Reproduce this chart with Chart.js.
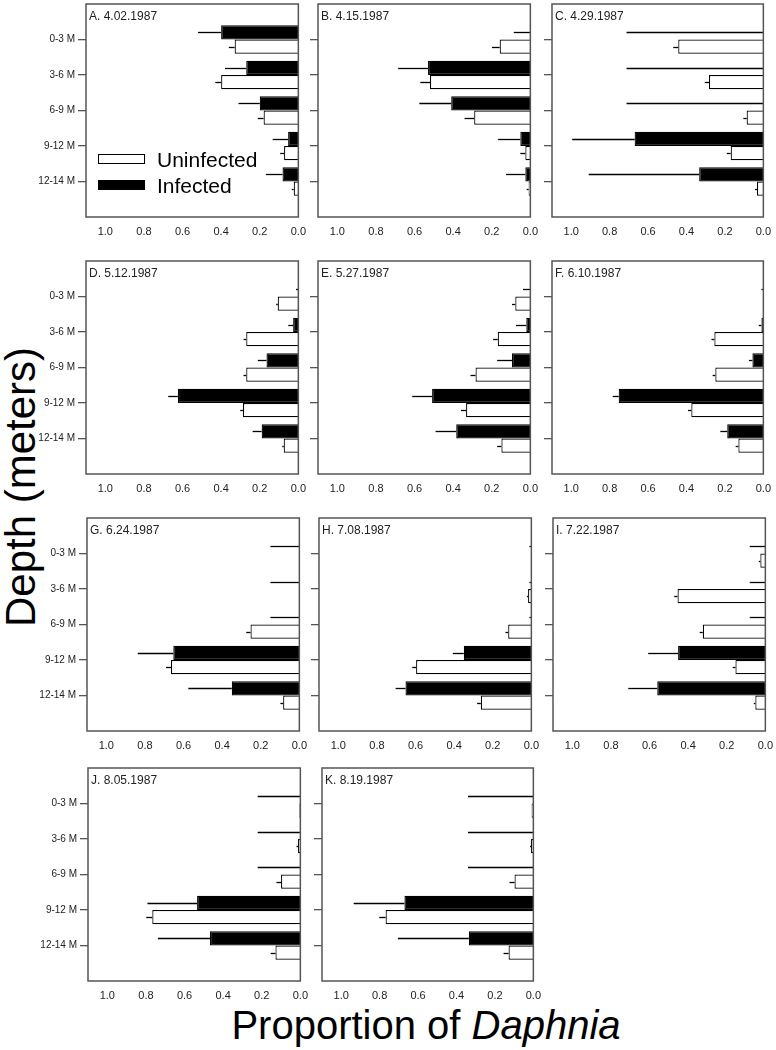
<!DOCTYPE html>
<html>
<head>
<meta charset="utf-8">
<script src="https://cdn.jsdelivr.net/npm/chart.js@4.4.1/dist/chart.umd.min.js"></script>
<style>
  body { margin: 0; background: #fff; width: 776px; height: 1050px; position: relative; overflow: hidden;
         font-family: "Liberation Sans", Arial, sans-serif; color: #000; }
  canvas { position: absolute; }
  #ytitle { position: absolute; left: 21px; top: 487px; transform: translate(-50%, -50%) rotate(-90deg);
            font-size: 42px; white-space: nowrap; line-height: 1; }
  #xtitle { position: absolute; left: 426px; top: 1025px; transform: translate(-50%, -50%);
            font-size: 40px; white-space: nowrap; line-height: 1; }
  .swatch { position: absolute; left: 98px; width: 47px; height: 10px; box-sizing: border-box; border: 1.3px solid #000; }
  .legtext { position: absolute; left: 157px; font-size: 21px; line-height: 1; transform: translateY(-50%); }
</style>
</head>
<body>
<div id="ytitle">Depth (meters)</div>
<div id="xtitle">Proportion of <i>Daphnia</i></div>

<script>
const depths = ['0-3 M', '3-6 M', '6-9 M', '9-12 M', '12-14 M'];
const panelTitles = ['A. 4.02.1987', 'B. 4.15.1987', 'C. 4.29.1987', 'D. 5.12.1987', 'E. 5.27.1987',
  'F. 6.10.1987', 'G. 6.24.1987', 'H. 7.08.1987', 'I. 7.22.1987', 'J. 8.05.1987', 'K. 8.19.1987'];

// proportion infected / uninfected per depth, one row per sampling date
const infected = [
  [0.40, 0.27, 0.20, 0.053, 0.082],
  [0, 0.53, 0.41, 0.052, 0.026],
  [0, 0, 0, 0.67, 0.334],
  [0, 0.027, 0.165, 0.624, 0.19],
  [0, 0.021, 0.095, 0.509, 0.384],
  [0, 0.01, 0.057, 0.753, 0.188],
  [0, 0, 0, 0.653, 0.35],
  [0, 0, 0, 0.35, 0.652],
  [0, 0, 0, 0.452, 0.56],
  [0, 0, 0, 0.535, 0.468],
  [0, 0, 0, 0.671, 0.336]
];
const infectedErr = [
  [0.12, 0.11, 0.11, 0.08, 0.086],
  [0.086, 0.155, 0.165, 0.115, 0.10],
  [0.712, 0.712, 0.712, 0.325, 0.575],
  [0.012, 0.025, 0.045, 0.05, 0.047],
  [0.038, 0.053, 0.077, 0.103, 0.107],
  [0.01, 0.014, 0.018, 0.031, 0.036],
  [0.15, 0.15, 0.15, 0.184, 0.225],
  [0.01, 0.01, 0.01, 0.057, 0.051],
  [0.081, 0.081, 0.081, 0.155, 0.15],
  [0.221, 0.221, 0.221, 0.257, 0.27],
  [0.34, 0.34, 0.34, 0.264, 0.369]
];
const uninfected = [
  [0.33, 0.40, 0.18, 0.074, 0.024],
  [0.159, 0.52, 0.291, 0.026, 0.009],
  [0.443, 0.283, 0.087, 0.17, 0.033],
  [0.107, 0.27, 0.27, 0.287, 0.076],
  [0.078, 0.169, 0.284, 0.333, 0.15],
  [0.002, 0.255, 0.25, 0.375, 0.13],
  [0, 0.002, 0.253, 0.665, 0.084],
  [0, 0.017, 0.12, 0.597, 0.262],
  [0.026, 0.455, 0.324, 0.155, 0.052],
  [0.005, 0.012, 0.10, 0.767, 0.129],
  [0.009, 0.012, 0.098, 0.769, 0.129]
];
const uninfectedErr = [
  [0.03, 0.03, 0.03, 0.02, 0.01],
  [0.04, 0.05, 0.05, 0.026, 0.01],
  [0.026, 0.022, 0.017, 0.02, 0.01],
  [0.008, 0.014, 0.014, 0.014, 0.007],
  [0.017, 0.024, 0.026, 0.026, 0.022],
  [0, 0.015, 0.014, 0.017, 0.014],
  [0, 0, 0.022, 0.026, 0.014],
  [0, 0.005, 0.014, 0.02, 0.019],
  [0.008, 0.017, 0.016, 0.014, 0.008],
  [0, 0.008, 0.024, 0.031, 0.025],
  [0, 0.005, 0.026, 0.033, 0.026]
];

// plot box of each panel on the page: left, top, width, height
const boxes = [
  [86, 3, 214, 214], [318, 3, 214, 214], [552, 3, 213, 214],
  [86, 260, 214, 214], [318, 260, 214, 214], [552, 260, 213, 214],
  [87, 517, 214, 214], [319, 517, 214, 214], [553, 517, 214, 214],
  [88, 767, 214, 214], [322, 767, 213, 214]
];

const FRAME = '#555';
const PAD_TOP = 8, PAD_RIGHT = 14, X_H = 28;

const errorBars = {
  id: 'errorBars',
  afterDatasetsDraw(chart) {
    const { ctx, scales: { x } } = chart;
    const errs = chart.options.plugins.errorBars.errs;
    ctx.save();
    ctx.strokeStyle = '#000';
    ctx.lineWidth = 1.3;
    chart.data.datasets.forEach((ds, i) => {
      chart.getDatasetMeta(i).data.forEach((bar, j) => {
        const v = ds.data[j];
        const e = errs[i][j];
        if (v == null || !e) return;
        const y = Math.round(bar.y) + 0.5;
        ctx.beginPath();
        ctx.moveTo(x.getPixelForValue(v), y);
        ctx.lineTo(x.getPixelForValue(v + e), y);
        ctx.stroke();
      });
    });
    ctx.restore();
  }
};

const frame = {
  id: 'frame',
  afterDraw(chart) {
    const { ctx, chartArea: a } = chart;
    ctx.save();
    ctx.strokeStyle = FRAME;
    ctx.lineWidth = 1.5;
    ctx.strokeRect(a.left, a.top, a.right - a.left, a.bottom - a.top);
    ctx.font = '12px "Liberation Sans", Arial, sans-serif';
    ctx.fillStyle = '#222';
    ctx.textBaseline = 'middle';
    ctx.fillText(chart.options.plugins.frame.title, a.left + 3, a.top + 13);
    ctx.restore();
  }
};

boxes.forEach((b, p) => {
  const [L, T, W, H] = b;
  const firstCol = p % 3 === 0;
  const yw = firstCol ? 86 : 16;
  const cv = document.createElement('canvas');
  cv.width = yw + W + PAD_RIGHT;
  cv.height = PAD_TOP + H + X_H;
  cv.style.left = (L - yw) + 'px';
  cv.style.top = (T - PAD_TOP) + 'px';
  document.body.appendChild(cv);

  const labels = ['', ...depths, ''];
  const pad = arr => [null, ...arr, null];

  new Chart(cv, {
    type: 'bar',
    data: {
      labels,
      datasets: [
        { label: 'Infected', data: pad(infected[p]), backgroundColor: '#000', borderColor: '#000', borderWidth: 1.2 },
        { label: 'Uninfected', data: pad(uninfected[p]), backgroundColor: '#fff', borderColor: '#000', borderWidth: 1.2 }
      ]
    },
    options: {
      indexAxis: 'y',
      responsive: false,
      animation: false,
      layout: { padding: { top: PAD_TOP, right: PAD_RIGHT, left: 0, bottom: 0 } },
      datasets: { bar: { categoryPercentage: 0.8, barPercentage: 1.0 } },
      scales: {
        x: {
          reverse: true,
          min: 0,
          max: 1.1,
          grid: { display: false, drawTicks: false },
          border: { display: false },
          ticks: {
            stepSize: 0.2,
            includeBounds: false,
            maxRotation: 0,
            padding: 8,
            color: '#222',
            font: { family: '"Liberation Sans", Arial, sans-serif', size: 11 },
            callback: v => v.toFixed(1)
          },
          afterFit: s => { s.height = X_H; }
        },
        y: {
          offset: false,
          grid: {
            offset: false,
            drawOnChartArea: false,
            tickLength: 8,
            lineWidth: 1.3,
            tickColor: c => (c.index === 0 || c.index === labels.length - 1) ? 'rgba(0,0,0,0)' : FRAME
          },
          border: { display: false },
          ticks: {
            autoSkip: false,
            padding: 3,
            color: '#222',
            font: { family: '"Liberation Sans", Arial, sans-serif', size: 10 },
            callback: (v, i) => firstCol ? labels[i] : ''
          },
          afterFit: s => { s.width = yw; }
        }
      },
      plugins: {
        legend: { display: false },
        tooltip: { enabled: false },
        errorBars: { errs: [pad(infectedErr[p]), pad(uninfectedErr[p])] },
        frame: { title: panelTitles[p] }
      }
    },
    plugins: [errorBars, frame]
  });
});
</script>

<div class="swatch" style="top:154px; background:#fff;"></div>
<div class="legtext" style="top:159px;">Uninfected</div>
<div class="swatch" style="top:180px; background:#000;"></div>
<div class="legtext" style="top:185px;">Infected</div>
</body>
</html>
